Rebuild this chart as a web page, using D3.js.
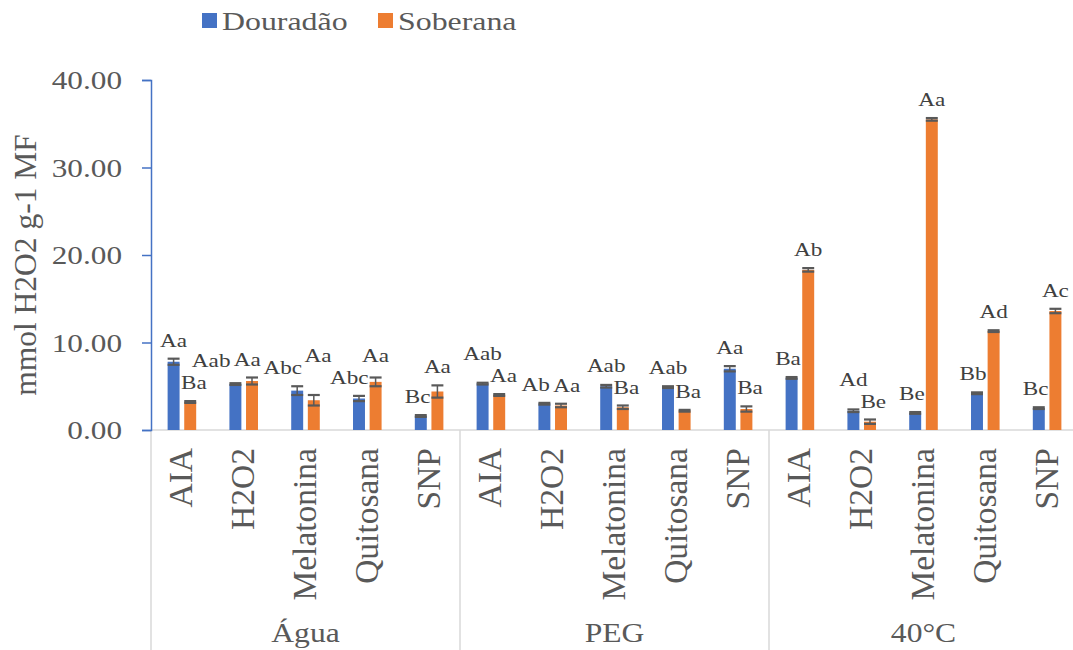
<!DOCTYPE html>
<html>
<head>
<meta charset="utf-8">
<script src="https://cdn.jsdelivr.net/npm/d3@7"></script>
<style>
  body { margin: 0; background: #fff; }
  svg { display: block; }
</style>
</head>
<body>
<svg id="chart" width="1073" height="650"></svg>
<script>
// ---- data ----
const groups = ["Água", "PEG", "40°C"];
const treatments = ["AIA", "H2O2", "Melatonina", "Quitosana", "SNP"];
const seriesNames = ["Douradão", "Soberana"];
const douradao = [7.8, 5.25, 4.5, 3.6, 1.6,   5.3, 3.0, 5.0, 4.9, 7.0,   5.95, 2.2, 1.95, 4.2, 2.5];
const soberana = [3.2, 5.6, 3.4, 5.5, 4.4,    4.0, 2.8, 2.6, 2.2, 2.4,   18.3, 0.95, 35.5, 11.3, 13.6];
const douradaoErr = [0.35, 0.1, 0.5, 0.3, 0.1,  0.1, 0.1, 0.15, 0.1, 0.3,  0.1, 0.15, 0.1, 0.1, 0.1];
const soberanaErr = [0.1, 0.4, 0.6, 0.5, 0.7,   0.1, 0.2, 0.2, 0.1, 0.3,   0.2, 0.25, 0.15, 0.1, 0.25];
const douradaoLbl = ["Aa","Aab","Abc","Abc","Bc", "Aab","Ab","Aab","Aab","Aa", "Ba","Ad","Be","Bb","Bc"];
const soberanaLbl = ["Ba","Aa","Aa","Aa","Aa",   "Aa","Aa","Ba","Ba","Ba",    "Ab","Be","Aa","Ad","Ac"];
const yTicks = [0, 10, 20, 30, 40];
const yLabel = "mmol H2O2 g-1 MF";
const colors = ["#4472C4", "#ED7D31"];

// ---- layout ----
const FONT = '"Liberation Serif", "DejaVu Serif", serif';
const svg = d3.select("#chart").attr("font-family", FONT);
const mLeft = 151, mRight = 1078, mTop = 80, mBottom = 430;
const SX = 1.25; // horizontal stretch of the reference's upright text

const cats = [];
groups.forEach((g, gi) => treatments.forEach((t, ti) => cats.push({ id: gi + "_" + ti, g, t, i: cats.length })));

const x = d3.scaleBand().domain(cats.map(c => c.id)).range([mLeft, mRight]).paddingInner(0).paddingOuter(0);
const xInner = d3.scaleBand().domain([0, 1]).range([0, x.bandwidth()]).paddingInner(0.28).paddingOuter(1.0);
const y = d3.scaleLinear().domain([0, 40]).range([mBottom, mTop]);

// horizontal axis line
svg.append("line").attr("x1", mLeft).attr("x2", mRight).attr("y1", mBottom).attr("y2", mBottom)
  .attr("stroke", "#d9d9d9").attr("stroke-width", 1.5);

// group separators
const groupEdges = [mLeft].concat(groups.map((g, gi) => x(gi + "_" + (treatments.length - 1)) + x.bandwidth()));
groupEdges.forEach(e => {
  svg.append("line").attr("x1", e).attr("x2", e).attr("y1", mBottom).attr("y2", 650)
    .attr("stroke", "#d9d9d9").attr("stroke-width", 1.5);
});

// y axis
const yAxis = d3.axisLeft(y).tickValues(yTicks).tickFormat(d3.format(".2f")).tickSize(9).tickPadding(20);
const ya = svg.append("g").attr("transform", `translate(${mLeft},0)`).call(yAxis);
ya.attr("font-family", FONT);
ya.select(".domain").attr("stroke", "#4472C4").attr("stroke-width", 1.5);
ya.selectAll(".tick line").attr("stroke", "#4472C4").attr("stroke-width", 1.5);
ya.selectAll(".tick text")
  .attr("fill", "#595959").style("font-size", "25px").attr("dy", "0.35em")
  .attr("x", 0).attr("transform", `translate(-29,0) scale(${SX},1)`);

// y label
svg.append("text")
  .attr("transform", `translate(36,${(mTop + mBottom) / 2 + 10}) rotate(-90)`)
  .attr("text-anchor", "middle").attr("fill", "#595959").style("font-size", "31.5px")
  .text(yLabel);

// bars
const series = [
  { vals: douradao, err: douradaoErr, lbl: douradaoLbl },
  { vals: soberana, err: soberanaErr, lbl: soberanaLbl }
];
const barLayer = svg.append("g");
const labelLayer = svg.append("g");
const labels = [];
const barBoxes = [];
const LSX = 1.22;
series.forEach((s, si) => {
  const gS = barLayer.append("g");
  cats.forEach((c, ci) => {
    const bx = x(c.id) + xInner(si);
    const bw = xInner.bandwidth();
    const v = s.vals[ci], e = s.err[ci];
    gS.append("rect").attr("x", bx).attr("y", y(v)).attr("width", bw).attr("height", y(0) - y(v))
      .attr("fill", colors[si]);
    const cx = bx + bw / 2;
    gS.append("line").attr("x1", cx).attr("x2", cx).attr("y1", y(v - e)).attr("y2", y(v + e))
      .attr("stroke", "#595959").attr("stroke-width", 1.5);
    [v - e, v + e].forEach(val => {
      gS.append("line").attr("x1", bx).attr("x2", bx + bw).attr("y1", y(val)).attr("y2", y(val))
        .attr("stroke", "#595959").attr("stroke-width", 2.2);
    });
    barBoxes.push({ ci, si, x0: bx, x1: bx + bw, y0: y(v + e) - 1, y1: y(0) });
    const t = labelLayer.append("text").attr("x", 0).attr("y", 0)
      .attr("text-anchor", "middle").attr("fill", "#404040").style("font-size", "19px")
      .text(s.lbl[ci]);
    const bb = t.node().getBBox();
    labels.push({ node: t, ci, si, px: cx, py: y(v + e) - 12, w: bb.width * LSX, top: bb.y, bot: bb.y + bb.height });
  });
});

// ---- label collision handling ----
function box(l) {
  return { x0: l.px - l.w / 2 - 1, x1: l.px + l.w / 2 + 1, y0: l.py + l.top, y1: l.py + l.bot };
}
function overlap(a, b) {
  return a.x0 < b.x1 && b.x0 < a.x1 && a.y0 < b.y1 && b.y0 < a.y1;
}
function avoidBars() {
  labels.forEach(l => {
    barBoxes.forEach(b => {
      if (b.ci === l.ci && b.si === l.si) return;
      const a = box(l);
      if (!overlap(a, b)) return;
      if ((b.x0 + b.x1) / 2 > l.px) l.px -= (a.x1 - b.x0);
      else l.px += (b.x1 - a.x0);
    });
  });
}
labels.sort((p, q) => (p.ci * 2 + p.si) - (q.ci * 2 + q.si));
avoidBars();
for (let pass = 0; pass < 8; pass++) {
  for (let i = 0; i < labels.length; i++) {
    for (let j = i + 1; j < labels.length; j++) {
      const L = labels[i], R = labels[j];
      if (R.ci - L.ci > 1) continue;
      const a = box(L), b = box(R);
      if (!overlap(a, b)) continue;
      const dy = L.py - R.py;
      if (L.ci === R.ci && Math.abs(dy) >= 10) {
        const hi = dy < 0 ? L : R;
        const need = dy < 0 ? (a.y1 - b.y0 + 1) : (b.y1 - a.y0 + 1);
        hi.py -= need;
      } else if (L.ci === R.ci) {
        const need = a.x1 - b.x0 + 1;
        L.px -= need * 0.6;
        R.px += need * 0.4;
      } else {
        L.px -= (a.x1 - b.x0 + 1);
      }
    }
  }
  avoidBars();
}
// final safety: lift anything still overlapping
for (let i = 0; i < labels.length; i++) {
  for (let j = 0; j < labels.length; j++) {
    if (i === j) continue;
    const L = labels[i], R = labels[j];
    const a = box(L), b = box(R);
    if (overlap(a, b)) {
      const hi = L.py <= R.py ? L : R, lo = hi === L ? R : L;
      hi.py -= (box(hi).y1 - box(lo).y0 + 1);
    }
  }
}
labels.forEach(l => l.node.attr("transform", `translate(${l.px},${l.py}) scale(${LSX},1)`));

// category labels
cats.forEach(c => {
  const cx = x(c.id) + x.bandwidth() / 2;
  svg.append("text")
    .attr("transform", `translate(${cx + 10.5},${mBottom + 18}) rotate(-90)`)
    .attr("text-anchor", "end").attr("fill", "#595959").style("font-size", "33.5px")
    .text(c.t);
});

// group labels
groups.forEach((g, gi) => {
  const cx = (groupEdges[gi] + groupEdges[gi + 1]) / 2;
  svg.append("text").attr("transform", `translate(${cx},642) scale(1.17,1)`).attr("text-anchor", "middle")
    .attr("fill", "#595959").style("font-size", "27px").text(g);
});

// legend
const legX = [202, 378];
seriesNames.forEach((n, i) => {
  svg.append("rect").attr("x", legX[i]).attr("y", 13).attr("width", 15).attr("height", 15).attr("fill", colors[i]);
  svg.append("text").attr("transform", `translate(${legX[i] + 20},30) scale(1.3,1)`).attr("fill", "#595959")
    .style("font-size", "24.5px").text(n);
});
</script>
</body>
</html>
